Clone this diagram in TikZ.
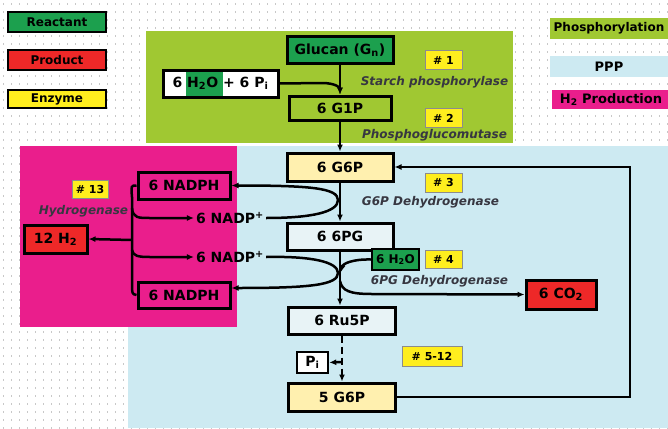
\documentclass[tikz,border=0pt]{standalone}
\usepackage{fontspec}
\setmainfont{DejaVu Sans}
\usetikzlibrary{arrows.meta}

\definecolor{reacgreen}{RGB}{28,160,78}
\definecolor{prodred}{RGB}{238,40,40}
\definecolor{enzyellow}{RGB}{255,238,30}
\definecolor{phosgreen}{RGB}{160,200,50}
\definecolor{pppblue}{RGB}{205,234,242}
\definecolor{htwopink}{RGB}{234,30,140}
\definecolor{paleyellow}{RGB}{255,240,175}
\definecolor{paleblue}{RGB}{232,243,246}
\definecolor{enzgray}{RGB}{55,55,65}
\definecolor{dotgray}{RGB}{200,200,200}

\begin{document}
\begin{tikzpicture}[
    x=1pt,y=-1pt,
    >={Latex[length=7pt,width=6pt]},
    box/.style={draw,line width=3pt,inner sep=0pt,font=\bfseries\fontsize{14}{16}\selectfont},
    legend/.style={inner sep=0pt,minimum width=98pt,font=\bfseries\fontsize{12}{14}\selectfont},
    area/.style={inner sep=0pt,minimum width=118pt,font=\bfseries\fontsize{13}{15}\selectfont},
    tag/.style={fill=enzyellow,draw=black!45,line width=0.6pt,inner sep=0pt,minimum width=37pt,
      minimum height=19pt,font=\bfseries\fontsize{11}{13}\selectfont},
    enz/.style={inner sep=0pt,text=enzgray,font=\bfseries\itshape\fontsize{12}{14}\selectfont},
    flow/.style={line width=2.5pt,->},
    link/.style={line width=2.5pt}]
  \useasboundingbox (0,0) rectangle (668,428);
  % ---- background and regions ----
  \fill[white] (0,0) rectangle (668,428);
  \foreach \yy in {4,12,...,428}
    \draw[dotgray,line width=1.2pt,dash pattern=on 1.2pt off 6.8pt] (3,\yy) -- (668,\yy);
  \fill[phosgreen] (146,31) rectangle (513,143);
  \fill[pppblue] (128,146) rectangle (668,428);
  \fill[htwopink] (20,146) rectangle (237,327);

  % ---- legend ----
  \node[legend,fill=reacgreen,draw,line width=2.5pt,minimum height=20pt] (lreac) at (57,22) {Reactant};
  \node[legend,fill=prodred,draw,line width=2.5pt,minimum height=20pt] (lprod) at (57,60) {Product};
  \node[legend,fill=enzyellow,draw,line width=2.5pt,minimum height=18pt] (lenz) at (57,99) {Enzyme};
  \node[area,fill=phosgreen,minimum height=21pt,font=\bfseries\fontsize{12}{14}\selectfont] (lphos) at (609,28.5) {Phosphorylation};
  \node[area,fill=pppblue,minimum height=21pt] (lppp) at (609,66.5) {PPP};
  \node[area,fill=htwopink,minimum height=19pt] (lhtwo) at (611,99.5) {H\textsubscript{2} Production};

  % ---- phosphorylation ----
  \node[box,fill=reacgreen,minimum width=106pt,minimum height=26pt] (glucan) at (340,50) {Glucan (G\textsubscript{n})};
  \node[box,fill=white,minimum width=115pt,minimum height=27pt,
    path picture={\fill[reacgreen] ([xshift=23pt]path picture bounding box.south west)
      rectangle ([xshift=60pt]path picture bounding box.north west);}] (water) at (220.5,83.5)
    {6 H\textsubscript{2}O + 6 P\textsubscript{i}};
  \node[box,fill=phosgreen,minimum width=102pt,minimum height=24pt] (gonep) at (340,108) {6 G1P};
  \node[tag] (tagone) at (443.5,60) {\# 1};
  \node[enz] (starch) at (434.5,82) {Starch phosphorylase};
  \node[tag] (tagtwo) at (443.5,118) {\# 2};
  \node[enz] (pgm) at (434.5,135) {Phosphoglucomutase};

  % ---- PPP ----
  \node[box,fill=paleyellow,minimum width=106pt,minimum height=28pt] (gsixp) at (340,167) {6 G6P};
  \node[tag] (tagthree) at (443.5,182.5) {\# 3};
  \node[enz] (gpdh) at (430.5,202) {G6P Dehydrogenase};
  \node[box,fill=paleblue,minimum width=106pt,minimum height=27pt] (sixpg) at (340,236.5) {6 6PG};
  \node[box,fill=reacgreen,line width=2.5pt,minimum width=47pt,minimum height=21pt,
    font=\bfseries\fontsize{12}{14}\selectfont] (watertwo) at (395.5,259.5) {6 H\textsubscript{2}O};
  \node[tag,minimum height=18pt] (tagfour) at (443.5,259) {\# 4};
  \node[enz] (pgdh) at (439.5,281) {6PG Dehydrogenase};
  \node[box,fill=prodred,minimum width=70pt,minimum height=29pt] (cotwo) at (561,294.5) {6 CO\textsubscript{2}};
  \node[box,fill=paleblue,minimum width=107pt,minimum height=27pt] (rufivep) at (342,320.5) {6 Ru5P};
  \node[box,fill=white,line width=2.5pt,minimum width=31pt,minimum height=21pt] (pi) at (312.5,362.5) {P\textsubscript{i}};
  \node[tag,minimum width=60pt,minimum height=20pt] (tagfive) at (432,356) {\# 5-12};
  \node[box,fill=paleyellow,minimum width=107pt,minimum height=28pt] (fivegsixp) at (342,397) {5 G6P};

  % ---- H2 production ----
  \node[box,fill=htwopink,minimum width=92pt,minimum height=27pt] (nadphone) at (184,185.5) {6 NADPH};
  \node[box,fill=htwopink,minimum width=92pt,minimum height=26pt] (nadphtwo) at (184,295) {6 NADPH};
  \node[tag,minimum width=36pt,minimum height=18pt] (tagthirteen) at (90,189) {\# 13};
  \node[enz] (hydrog) at (83.5,211) {Hydrogenase};
  \node[box,fill=prodred,minimum width=63pt,minimum height=28pt] (htwo) at (55.5,239) {12 H\textsubscript{2}};
  \node[inner sep=2pt,font=\bfseries\fontsize{14}{16}\selectfont] (nadpone) at (230,218) {6 NADP\textsuperscript{+}};
  \node[inner sep=2pt,font=\bfseries\fontsize{14}{16}\selectfont] (nadptwo) at (230,257) {6 NADP\textsuperscript{+}};

  % ---- free ends ----
  \coordinate (hub) at (132,240);
  \coordinate (forkone) at (132,208);
  \coordinate (forktwo) at (132,250);
  \coordinate (joinone) at (341,272);
  \coordinate (splitone) at (340,281);
  \coordinate (splittwo) at (342,362);
  \coordinate (back) at (630,397);

  % ---- connectors ----
  \draw[flow] (glucan) -- (gonep);
  \draw[flow] (water.east) -- (322,83) .. controls (336,83) and (340,88) .. (gonep.north);
  \draw[flow] (gonep) -- (gsixp);
  \draw[flow] (gsixp) -- (sixpg);
  \draw[flow] (sixpg.south) -- (sixpg.south |- rufivep.north);
  \draw[flow,dash pattern=on 7pt off 4pt] (rufivep) -- (fivegsixp);
  \draw[flow] (splittwo) -- (pi.east);
  \draw[flow] (watertwo.west) .. controls (352,259) and (343,264) .. (joinone);
  \draw[flow] (splitone) .. controls (342,291) and (350,294) .. (372,294) -- (cotwo.west);
  \draw[flow] (fivegsixp.east) -- (back) |- (gsixp.east);
  \draw[flow] (nadpone.east) .. controls (312,218) and (338,212) .. (338,200)
    .. controls (338,188) and (310,185.5) .. (nadphone.east);
  \draw[flow] (nadptwo.east) .. controls (312,256) and (338,262) .. (338,273)
    .. controls (338,285) and (310,288) .. ([yshift=7pt]nadphtwo.east);
  \draw[link] (nadphone.west) .. controls (131,185.5) .. (132,197) -- (132,283)
    .. controls (132,294) .. (nadphtwo.west);
  \draw[flow] (hub) -- (htwo.east);
  \draw[flow] (forkone) .. controls (133,218) and (138,218) .. (150,218) -- (nadpone.west);
  \draw[flow] (forktwo) .. controls (133,256) and (138,257) .. (150,257) -- (nadptwo.west);
\end{tikzpicture}
\end{document}
